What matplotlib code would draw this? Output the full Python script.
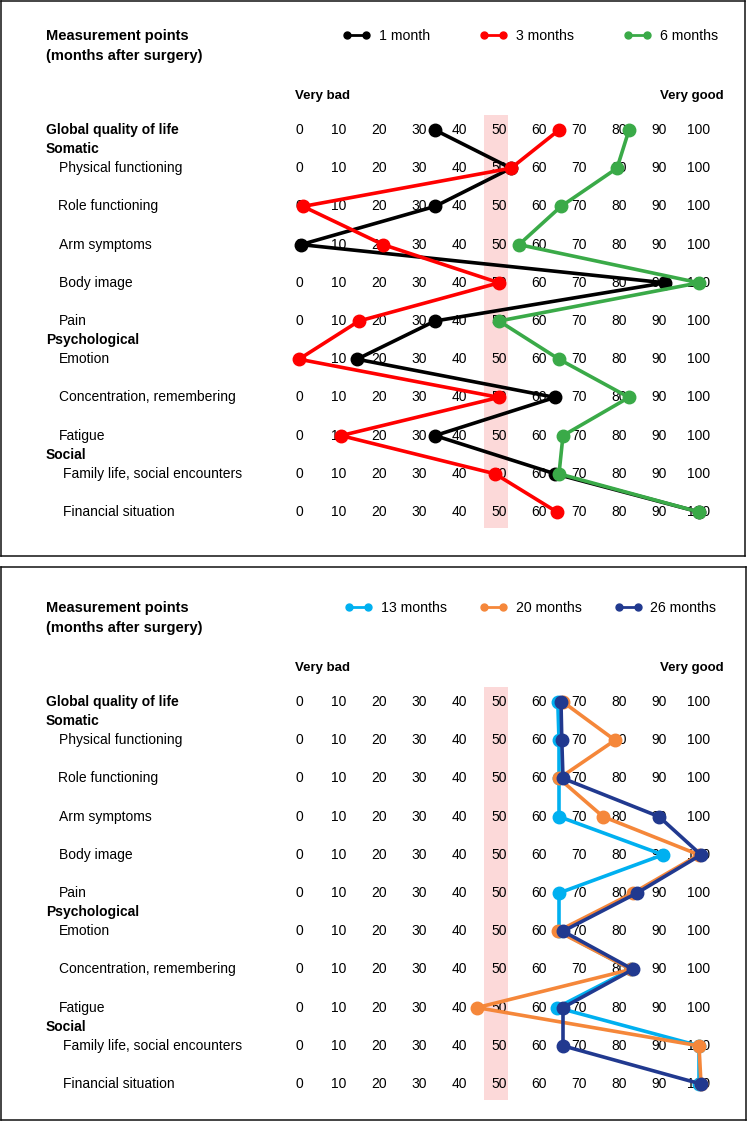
import matplotlib
matplotlib.use("Agg")
from matplotlib import pyplot as plt
from matplotlib.lines import Line2D

plt.rcParams['font.family'] = ['Liberation Sans', 'DejaVu Sans']

ITEMS = ["Global quality of life", "Physical functioning", "Role functioning", "Arm symptoms",
         "Body image", "Pain", "Emotion", "Concentration, remembering", "Fatigue",
         "Family life, social encounters", "Financial situation"]
GROUPS = ["Somatic", "Psychological", "Social"]
SCALE = [0, 10, 20, 30, 40, 50, 60, 70, 80, 90, 100]

# scores, one per item
TOP_LABELS = ["1 month", "3 months", "6 months"]
M1 = [34, 53, 34, 0.5, 91.5, 34, 14.5, 64, 34, 64, 100]
M3 = [65, 53, 1, 21, 50, 15, 0, 50, 10.5, 49, 64.5]
M6 = [82.5, 79.5, 65.5, 55, 100, 50, 65, 82.5, 66, 65, 100]

BOTTOM_LABELS = ["13 months", "20 months", "26 months"]
M13 = [64.7, 65, 65, 65, 91, 65, 65, 83, 64.5, 100, 100]
M20 = [66, 79, 65, 76, 100, 83.5, 64.7, 83, 44.5, 100, 100.5]
M26 = [65.5, 65.7, 66, 90, 100.5, 84.5, 66, 83.5, 66, 66, 100.5]

# layout (pixels): value 0 at x=299, 4 px per point, rows 38.2 px apart
W, H = 748, 1122
X0, PX = 299, 4.0
ROW = 38.2
GROUP_AT = [0.5, 5.5, 8.5]
INDENT = [46, 59, 58, 59, 59, 59, 59, 59, 59, 63, 63]
BOLD = ['Liberation Sans Narrow', 'Liberation Sans']


def make_panel(box, first_row_y, labels, series, colors, colspace, leg_x):
    left, top, right, bottom = box
    ax = fig.add_axes([left / W, 1 - bottom / H, (right - left) / W, (bottom - top) / H])
    ax.set_xlim((left - X0) / PX, (right - X0) / PX)
    ax.set_ylim((bottom - first_row_y) / ROW, (top - first_row_y) / ROW)
    ax.set_xticks([])
    ax.set_yticks([])
    for s in ax.spines.values():
        s.set_linewidth(1.1)
        s.set_color("#111111")

    px = lambda x: (x - X0) / PX
    # pink band around 50
    ax.fill_between([46.25, 52.25], -0.39, 10.41, color="#fcd9d9", lw=0, zorder=0)

    for i, item in enumerate(ITEMS):
        for v in SCALE:
            ax.text(v, i, str(v), ha="center", va="center", fontsize=10, zorder=1)
        ax.text(px(INDENT[i]), i, item, ha="left", va="center", fontsize=10,
                fontweight="bold" if i == 0 else "normal")
    for g, y in zip(GROUPS, GROUP_AT):
        ax.text(px(46), y, g, ha="left", va="center", fontsize=10, fontweight="bold")

    ax.text(px(46), -2.46, "Measurement points", ha="left", va="center",
            fontsize=10.5, fontweight="bold", family=BOLD)
    ax.text(px(46), -1.95, "(months after surgery)", ha="left", va="center",
            fontsize=10.5, fontweight="bold", family=BOLD)
    ax.text(px(295), -0.9, "Very bad", ha="left", va="center", fontsize=9.5,
            fontweight="bold", family=BOLD)
    ax.text(px(724), -0.9, "Very good", ha="right", va="center", fontsize=9.5,
            fontweight="bold", family=BOLD)

    rows = list(range(len(ITEMS)))
    handles = []
    for vals, lab, c in zip(series, labels, colors):
        ax.plot(vals, rows, color=c, lw=2.6, marker="o", ms=9, zorder=3)
        handles.append(Line2D([], [], color=c, lw=2, marker="o", ms=5, label=lab))

    hy = first_row_y - 94
    ax.legend(handles=handles, ncol=3, numpoints=2, frameon=False, loc="center left",
              bbox_to_anchor=((leg_x - left) / (right - left), (bottom - hy) / (bottom - top)),
              borderpad=0, borderaxespad=0, handlelength=1.95, handletextpad=0.6,
              columnspacing=colspace, prop={'family': BOLD, 'size': 10.2})
    return ax


fig = plt.figure(figsize=(W / 100, H / 100), dpi=100)
make_panel((1, 1, 745, 556), 130, TOP_LABELS, [M1, M3, M6],
           ["black", "#ff0000", "#3aaa48"], 3.5, 343)
make_panel((1, 567, 746, 1120), 702, BOTTOM_LABELS, [M13, M20, M26],
           ["#00b0f0", "#f5873a", "#21398f"], 2.3, 345)

fig.savefig("out.png", dpi=100)
